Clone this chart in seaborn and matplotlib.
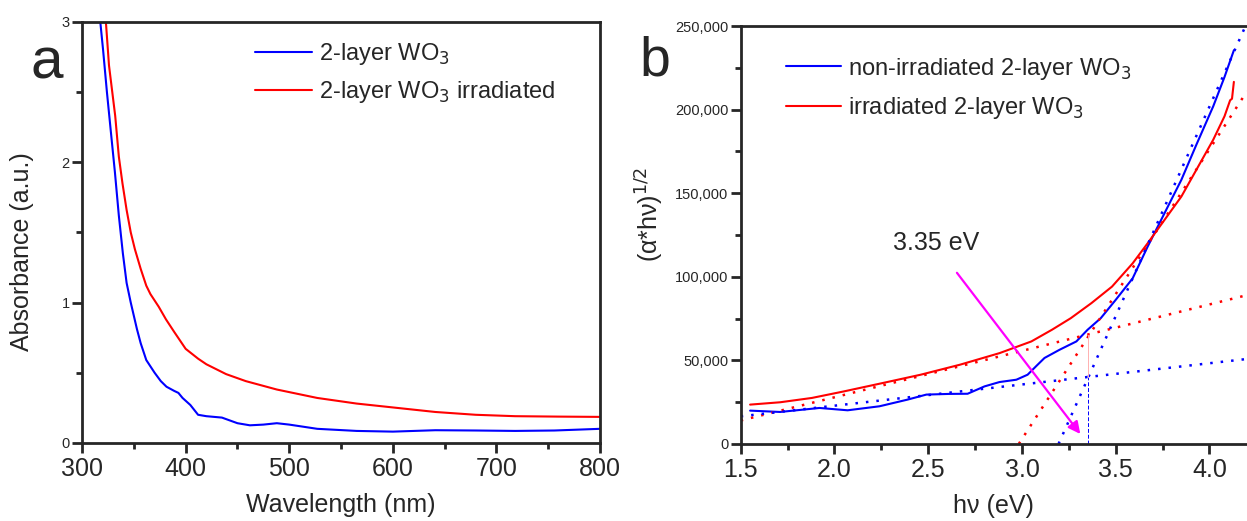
import numpy as np
import pandas as pd
import matplotlib
matplotlib.use("Agg")
import matplotlib.pyplot as plt
from matplotlib.ticker import MultipleLocator, FuncFormatter
import seaborn as sns

# panel a: UV-vis absorbance
wl_blue = [317.6, 320.3, 324, 327.9, 331.7, 335.5, 339.4, 343, 347, 353, 356.6, 362, 370, 376,
           381.5, 389, 393, 397, 404.5, 412, 420, 435, 450, 462, 475, 488, 500, 527, 565, 600,
           641, 680, 718, 756, 800]
abs_blue = [3.0, 2.80, 2.50, 2.21, 1.93, 1.62, 1.35, 1.14, 1.0, 0.81, 0.71, 0.59, 0.50, 0.44,
            0.40, 0.37, 0.356, 0.32, 0.27, 0.20, 0.19, 0.18, 0.14, 0.125, 0.13, 0.14, 0.13,
            0.10, 0.085, 0.08, 0.09, 0.088, 0.085, 0.088, 0.10]
wl_red = [323, 326, 332, 335.5, 339, 343, 347, 351, 356.6, 362, 366, 374, 381, 389, 400, 412,
          420, 439, 458, 488, 527, 565, 603, 641, 680, 718, 760, 800]
abs_red = [3.0, 2.69, 2.33, 2.04, 1.85, 1.66, 1.50, 1.38, 1.24, 1.12, 1.06, 0.97, 0.88, 0.79,
           0.67, 0.60, 0.56, 0.49, 0.44, 0.38, 0.32, 0.28, 0.25, 0.22, 0.20, 0.19, 0.187, 0.185]

# panel b: Tauc plot
hv_blue = [1.55, 1.71, 1.92, 2.07, 2.24, 2.39, 2.49, 2.61, 2.71, 2.80, 2.88, 2.97, 3.03, 3.08,
           3.12, 3.20, 3.29, 3.35, 3.42, 3.50, 3.59, 3.67, 3.76, 3.85, 3.93, 4.02, 4.08, 4.13]
tauc_blue = [19900, 19100, 21500, 20100, 22500, 26500, 29500, 29900, 30000, 34400, 37000, 38400,
             41400, 47000, 51400, 56300, 61300, 68300, 75200, 86200, 99000, 118000, 138000,
             158000, 179000, 202000, 219500, 235500]
hv_red = [1.55, 1.71, 1.88, 2.05, 2.24, 2.46, 2.67, 2.88, 3.05, 3.16, 3.26, 3.37, 3.48, 3.59,
          3.67, 3.76, 3.85, 3.93, 4.02, 4.08, 4.11, 4.12, 4.13]
tauc_red = [23500, 24900, 27500, 31400, 36000, 41400, 47400, 54300, 61300, 68300, 75200, 84200,
            94100, 108000, 120000, 134000, 148000, 164000, 182000, 196000, 205600, 206500, 216600]

# linear fits (end points)
fit_red_base = ([1.5, 4.2], [14000, 89000])
fit_blue_base = ([1.5, 4.2], [16500, 50800])
fit_red_edge = ([2.983, 4.2], [0, 211000])
fit_blue_edge = ([3.195, 4.2], [0, 252000])
gap_ev = 3.35
gap_blue_y = 40000
gap_red_y = 65400

sns.set_style("ticks")
plt.rcParams["font.family"] = ["Liberation Sans", "DejaVu Sans"]
plt.rcParams["axes.linewidth"] = 2

fig = plt.figure(figsize=(12.47, 5.21), dpi=100)
ax1 = fig.add_axes([0.0658, 0.150, 0.4154, 0.808])
ax2 = fig.add_axes([0.594, 0.148, 0.406, 0.802])

BLUE = "#0000ff"
RED = "#ff0000"

sns.lineplot(x=wl_blue, y=abs_blue, ax=ax1, color=BLUE, lw=1.5, label="2-layer WO$_3$")
sns.lineplot(x=wl_red, y=abs_red, ax=ax1, color=RED, lw=1.5, label="2-layer WO$_3$ irradiated")
ax1.set_xlim(300, 800)
ax1.set_ylim(0, 3)
ax1.xaxis.set_major_locator(MultipleLocator(100))
ax1.xaxis.set_minor_locator(MultipleLocator(50))
ax1.yaxis.set_major_locator(MultipleLocator(1))
ax1.yaxis.set_minor_locator(MultipleLocator(0.5))
ax1.set_xlabel("Wavelength (nm)", fontsize=18, labelpad=8)
ax1.set_ylabel("Absorbance (a.u.)", fontsize=18)
ax1.yaxis.set_label_coords(-0.093, 0.455)
ax1.legend(loc="upper left", bbox_to_anchor=(0.292, 1.005), frameon=False, fontsize=17,
           handlelength=2.45, handletextpad=0.3, labelspacing=0.52)
ax1.text(-0.068, 0.9, "a", transform=ax1.transAxes, fontsize=42, ha="center", va="center")

sns.lineplot(x=hv_blue, y=tauc_blue, ax=ax2, color=BLUE, lw=1.5,
             label="non-irradiated 2-layer WO$_3$")
sns.lineplot(x=hv_red, y=tauc_red, ax=ax2, color=RED, lw=1.5,
             label="irradiated 2-layer WO$_3$")
for (fx, fy), c in [(fit_red_base, RED), (fit_blue_base, BLUE),
                    (fit_red_edge, RED), (fit_blue_edge, BLUE)]:
    ax2.plot(fx, fy, color=c, lw=1.8, ls=(0, (1, 3.2)))
ax2.plot([gap_ev, gap_ev], [0, gap_blue_y], color=BLUE, lw=0.7, ls=(0, (4, 2)))
ax2.plot([gap_ev, gap_ev], [gap_blue_y, gap_red_y], color="#ffb0b0", lw=0.7)
ax2.annotate("", xy=(3.32, 4600), xytext=(2.644, 103700),
             arrowprops=dict(arrowstyle="-|>", color="#ff00ff", lw=1.6,
                             mutation_scale=18))
ax2.text(2.54, 120000, "3.35 eV", fontsize=18, ha="center", va="center")
ax2.set_xlim(1.5, 4.2)
ax2.set_ylim(0, 250000)
ax2.xaxis.set_major_locator(MultipleLocator(0.5))
ax2.xaxis.set_minor_locator(MultipleLocator(0.25))
ax2.yaxis.set_major_locator(MultipleLocator(50000))
ax2.yaxis.set_minor_locator(MultipleLocator(25000))
ax2.yaxis.set_major_formatter(FuncFormatter(lambda v, p: f"{int(v):,}"))
ax2.set_xlabel("hν (eV)", fontsize=18, labelpad=8)
ax2.set_ylabel("(α*hν)$^{1/2}$", fontsize=18)
ax2.yaxis.set_label_coords(-0.148, 0.55)
ax2.spines["right"].set_visible(False)
ax2.legend(loc="upper left", bbox_to_anchor=(0.047, 0.98), frameon=False, fontsize=17,
           handlelength=2.35, handletextpad=0.3, labelspacing=0.58)
ax2.text(-0.17, 0.915, "b", transform=ax2.transAxes, fontsize=40, ha="center", va="center")

for ax in (ax1, ax2):
    ax.tick_params(axis="x", which="major", labelsize=18, length=7, width=2, direction="out")
    ax.tick_params(axis="y", which="major", labelsize=10.5, length=7, width=2, direction="out",
                   pad=2)
    ax.tick_params(which="minor", length=4, width=2, direction="out")

fig.savefig("out.png", dpi=100)
